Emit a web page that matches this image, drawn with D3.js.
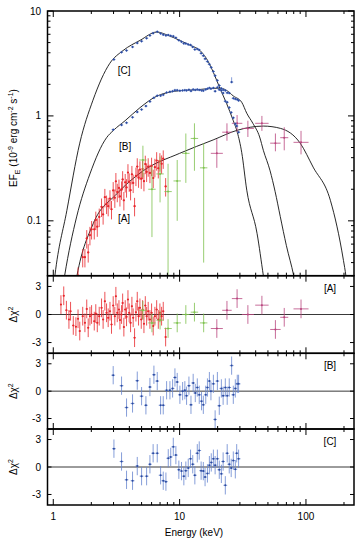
<!DOCTYPE html>
<html><head><meta charset="utf-8">
<script src="https://cdn.jsdelivr.net/npm/d3@7"></script>
<style>body{margin:0;background:#fff}svg{display:block;font-family:"Liberation Sans",Arial,sans-serif}</style>
</head><body><svg id="c" width="359" height="542"></svg>
<script>
// ---------- data ----------
const xTicksMajor = [1, 10, 100];
const xTickLabels = ["1", "10", "100"];
const yTicksMajor = [0.1, 1, 10];
const yTickLabels = ["0.1", "1", "10"];
const resTicks = [3, 0, -3];
const resTickLabels = ["3", "0", "-3"];
const panelNames = ["[A]", "[B]", "[C]"];

// model curves (energy keV, EF_E)
const modelAE = [1.4,1.54,2.07,3.17,5.15,10,18.4,28.6,46,63,90,114,156,198,207,215];
const modelAF = [0.015,0.03,0.094,0.18,0.30,0.44,0.59,0.73,0.80,0.76,0.55,0.325,0.157,0.042,0.03,0.02];
const modelBE = [1.1,1.23,1.53,1.95,2.64,3.0,3.7,4.86,6.5,8.4,10,14,18,20.9,23,26.6,31,34,38,43,46,52,57,62.6,70,80,88];
const modelBF = [0.012,0.03,0.109,0.28,0.62,0.73,0.9,1.2,1.53,1.69,1.74,1.78,1.83,1.84,1.78,1.55,1.35,1.06,0.85,0.63,0.47,0.30,0.19,0.11,0.058,0.03,0.016];
const modelCE = [0.95,1.03,1.28,1.62,2.06,2.8,3.57,4.86,6.6,8.13,10,12.2,14.5,16.6,18.5,20.9,23.5,26.6,28.6,31,34,41,46,50];
const modelCF = [0.012,0.03,0.125,0.55,1.41,3.17,4.2,5.25,6.3,5.85,5.25,4.7,4.2,3.4,2.6,1.82,1.32,0.9,0.7,0.45,0.196,0.076,0.03,0.015];

// [A] red data
const redE = [1.15,1.21,1.27,1.33,1.37,1.44,1.51,1.57,1.62,1.71,1.78,1.84,1.89,1.95,2.01,2.11,2.17,2.23,2.31,2.41,2.48,2.56,2.64,2.72,2.81,2.89,2.98,3.07,3.13,3.21,3.31,3.37,3.47,3.54,3.62,3.71,3.80,3.90,3.99,4.09,4.19,4.29,4.40,4.51,4.62,4.73,4.85,4.97,5.09,5.22,5.35,5.48,5.64,5.82,6.00,6.18,6.37,6.58,6.78,6.98,7.20,7.42,7.75];
const redFlux = [0.008,0.0136,0.013,0.0145,0.019,0.0174,0.0215,0.030,0.025,0.045,0.045,0.068,0.050,0.073,0.083,0.083,0.102,0.088,0.109,0.136,0.115,0.168,0.145,0.138,0.163,0.129,0.195,0.166,0.238,0.188,0.206,0.171,0.198,0.248,0.157,0.233,0.208,0.289,0.236,0.196,0.278,0.230,0.138,0.268,0.329,0.258,0.308,0.252,0.312,0.239,0.348,0.293,0.329,0.286,0.333,0.256,0.325,0.376,0.317,0.368,0.350,0.391,0.213];
const redRes = [1.06,2.0,0.46,-0.53,0.35,-1.17,-1.3,-0.46,-1.77,-0.18,-0.89,0.6,-1.42,-0.18,0,-0.71,0.1,-0.89,-0.18,0.71,-0.53,1.42,0.18,-0.35,0.35,-1.06,0.96,-0.18,1.95,0.18,0.53,-0.6,0,1.24,-1.35,0.53,-0.25,1.6,0.18,-0.89,0.89,-0.35,-2.48,0.25,1.42,-0.18,0.71,-0.53,0.53,-0.99,0.96,-0.18,0.35,-0.53,0.18,-1.24,-0.18,0.53,-0.53,0.18,-0.18,0.35,-2.41];
const redRelErr = 0.2;

// [A] green data
const greenE = [5.12,6.04,7.0,8.1,9.57,11.2,13.1,15.5];
const greenFlux = [0.38,0.20,0.28,0.19,0.24,0.44,0.61,0.32];
const greenLo = [0.26,0.07,0.15,0.03,0.10,0.23,0.30,0.04];
const greenHi = [0.52,0.33,0.41,0.35,0.38,0.68,0.85,0.55];
const greenRes = [0.45,-0.9,-0.6,-1.5,-0.9,0,0.25,-0.9];

// [A] magenta data
const magE = [19.7,23.7,28.5,34.7,44.8,57.3,67.3,91.4];
const magFlux = [0.44,0.70,0.85,0.76,0.85,0.55,0.62,0.56];
const magLo = [0.32,0.58,0.70,0.63,0.72,0.46,0.47,0.43];
const magHi = [0.60,0.85,1.02,0.90,1.00,0.68,0.78,0.72];
const magW = [1.116,1.09,1.10,1.116,1.13,1.10,1.076,1.147];
const magRes = [-1.5,0.45,1.7,0,1.0,-1.6,-0.3,0.6];

// [B] blue data
const bE = [2.98,3.47,3.80,4.24,4.62,5.00,5.41,5.82,6.26,6.65,7.07,7.42,7.89,8.38,8.80,9.18,9.57,10.05,10.56,11.0,11.35,11.85,12.3,12.8,13.3,13.8,14.3,14.9,15.4,16.1,16.6,17.2,17.7,18.5,19.1,19.9,20.6,21.4,22.1,23.0,23.8,24.7,25.8,26.6,27.6,28.6,29.3];
const bFlux = [0.74,0.82,0.86,0.97,1.09,1.15,1.24,1.37,1.49,1.56,1.56,1.59,1.67,1.70,1.72,1.76,1.76,1.74,1.75,1.76,1.75,1.78,1.73,1.79,1.77,1.79,1.77,1.75,1.74,1.79,1.82,1.85,1.82,1.85,1.72,1.87,1.78,1.83,1.77,1.75,1.66,1.65,2.1,1.47,1.45,1.43,1.40];
const bRes = [1.75,0.6,-1.8,-1.35,1.15,-0.55,-1.55,0.45,1.8,1.1,-1.55,-1.55,0.1,0.1,0.3,1.5,1.0,-0.4,0,0.1,-0.5,0.6,-1.5,0.9,-0.2,0.4,-0.4,-1.1,-1.5,-0.4,0.4,1.1,0,0.8,-3.1,1.1,-1.6,0.3,-0.5,0.4,-0.5,0.4,2.8,-0.4,0.3,0.8,0.8];

// [C] blue data
const cE = [3.02,3.47,3.80,4.24,4.62,5.0,5.48,5.82,6.17,6.65,7.07,7.42,7.79,8.13,8.5,8.91,9.34,9.86,10.35,10.8,11.2,11.7,12.2,12.7,13.2,13.8,14.3,14.8,15.4,15.9,16.6,17.2,17.8,18.5,19.1,19.9,20.6,21.4,22.1,23.0,23.8,24.7,25.6,26.6,27.6,28.3,29.3];
const cFlux = [3.45,4.05,4.2,4.55,4.95,5.15,5.5,5.85,6.15,6.35,6.1,5.95,5.85,5.9,5.8,5.75,5.55,5.25,5.1,4.9,4.9,4.8,4.75,4.55,4.3,4.35,4.25,3.95,3.75,3.5,3.3,3.1,2.9,2.65,2.42,2.18,1.95,1.75,1.65,1.38,1.35,1.2,1.08,0.96,0.84,0.80,0.70];
const cRes = [2.0,0.6,-1.4,-1.5,0.1,-1.0,-1.0,0.3,1.5,1.5,-0.9,-1.5,-1.6,0.95,1.1,2.2,1.3,-0.3,-0.45,-1.0,-0.4,-0.1,0.9,0.3,-0.9,1.5,1.8,-0.4,-0.45,-1.1,-0.7,0.2,0.5,0.9,0.2,0.9,-0.3,-0.75,0.6,-2.0,1.5,0.3,-0.1,0.7,-0.25,1.5,0.9];
const blueRelErr = 0.03;

// main curve label positions (energy, EF_E)
const mainLabelE = [3.63, 3.7, 3.63];
const mainLabelF = [0.106, 0.515, 2.7];

// ---------- layout ----------
const svg = d3.select("#c");
const L = 47.5, R = 354;
const mainTop = 11, mainBot = 275.7;
const panels = [[275.7, 353.3], [353.3, 429], [429, 505]];
const col = {red:"#e8262b", green:"#7ec24e", mag:"#b9467f", blue:"#2b4a9f", blueErr:"#6785cf"};

const x = d3.scaleLog().domain([0.9, 240]).range([L, R]);
const y = d3.scaleLog().domain([0.03, 10]).range([mainBot, mainTop]);
const ry = panels.map(p => d3.scaleLinear().domain([-4.15, 4.15]).range([p[1], p[0]]));

const defs = svg.append("defs");
function clip(id, y0, y1) {
  defs.append("clipPath").attr("id", id).append("rect").attr("x", L).attr("y", y0).attr("width", R - L).attr("height", y1 - y0);
}
clip("cm", mainTop, mainBot);
panels.forEach((p, i) => clip("cr" + i, p[0], p[1]));

// ---------- main panel ----------
const gm = svg.append("g").attr("clip-path", "url(#cm)");
const line = d3.line().x(d => x(d[0])).y(d => y(d[1])).curve(d3.curveMonotoneX);
[[modelAE, modelAF], [modelBE, modelBF], [modelCE, modelCF]].forEach(([E, F]) => {
  gm.append("path").attr("d", line(E.map((e, i) => [e, F[i]]))).attr("fill", "none").attr("stroke", "#111").attr("stroke-width", 0.9);
});

function errPts(g, pts, color, barColor, r) {
  pts.forEach(p => {
    g.append("line").attr("x1", x(p.e0)).attr("x2", x(p.e1)).attr("y1", p.sy(p.v)).attr("y2", p.sy(p.v)).attr("stroke", barColor).attr("stroke-width", 0.8);
    g.append("line").attr("x1", x(p.e)).attr("x2", x(p.e)).attr("y1", p.sy(p.lo)).attr("y2", p.sy(p.hi)).attr("stroke", barColor).attr("stroke-width", 0.8);
    g.append("circle").attr("cx", x(p.e)).attr("cy", p.sy(p.v)).attr("r", r).attr("fill", color);
  });
}

// main data
errPts(gm, redE.map((e, i) => ({e, e0: e / 1.018, e1: e * 1.018, v: redFlux[i], lo: redFlux[i] * (1 - redRelErr), hi: redFlux[i] * (1 + redRelErr), sy: y})), col.red, col.red, 1.1);
errPts(gm, greenE.map((e, i) => ({e, e0: e / 1.07, e1: e * 1.07, v: greenFlux[i], lo: greenLo[i], hi: greenHi[i], sy: y})), col.green, col.green, 1.0);
errPts(gm, magE.map((e, i) => ({e, e0: e / magW[i], e1: e * magW[i], v: magFlux[i], lo: magLo[i], hi: magHi[i], sy: y})), col.mag, col.mag, 1.0);
errPts(gm, bE.map((e, i) => ({e, e0: e / 1.03, e1: e * 1.03, v: bFlux[i], lo: bFlux[i] * (1 - blueRelErr), hi: bFlux[i] * (1 + blueRelErr) * (i === 42 ? 1.08 : 1), sy: y})), col.blue, col.blueErr, 1.0);
errPts(gm, cE.map((e, i) => ({e, e0: e / 1.03, e1: e * 1.03, v: cFlux[i], lo: cFlux[i] * (1 - blueRelErr), hi: cFlux[i] * (1 + blueRelErr), sy: y})), col.blue, col.blueErr, 1.0);

// ---------- residual panels ----------
const resData = [
  [[redE, redRes, col.red, col.red, 1.018], [greenE, greenRes, col.green, col.green, 1.07], [magE, magRes, col.mag, col.mag, null]],
  [[bE, bRes, col.blue, col.blueErr, 1.035]],
  [[cE, cRes, col.blue, col.blueErr, 1.035]]
];
panels.forEach((p, k) => {
  const g = svg.append("g").attr("clip-path", `url(#cr${k})`);
  g.append("line").attr("x1", L).attr("x2", R).attr("y1", ry[k](0)).attr("y2", ry[k](0)).attr("stroke", "#222").attr("stroke-width", 0.9);
  resData[k].forEach(([E, Rv, c, bc, w]) => {
    errPts(g, E.map((e, i) => {
      const ww = w === null ? magW[i] : w;
      return {e, e0: e / ww, e1: e * ww, v: Rv[i], lo: Rv[i] - 1, hi: Rv[i] + 1, sy: ry[k]};
    }), c, bc, 1.0);
  });
});

// ---------- frames & ticks ----------
const frame = svg.append("g");
function rectF(y0, y1) {
  frame.append("rect").attr("x", L).attr("y", y0).attr("width", R - L).attr("height", y1 - y0).attr("fill", "none").attr("stroke", "#000").attr("stroke-width", 1.5);
}
rectF(mainTop, mainBot);
panels.forEach(p => rectF(p[0], p[1]));

const xMinor = [];
[1, 10, 100].forEach(d => { for (let m = 2; m <= 9; m++) if (m * d <= 240) xMinor.push(m * d); });
function xTicks(y0, dir) {
  xTicksMajor.forEach(v => frame.append("line").attr("x1", x(v)).attr("x2", x(v)).attr("y1", y0).attr("y2", y0 + dir * 6).attr("stroke", "#000").attr("stroke-width", 1));
  xMinor.forEach(v => frame.append("line").attr("x1", x(v)).attr("x2", x(v)).attr("y1", y0).attr("y2", y0 + dir * 3).attr("stroke", "#000").attr("stroke-width", 1));
}
xTicks(mainTop, 1); xTicks(mainBot, -1);
panels.forEach(p => { xTicks(p[0], 1); xTicks(p[1], -1); });

const yMinor = [];
[0.01, 0.1, 1].forEach(d => { for (let m = 2; m <= 9; m++) { const v = m * d; if (v >= 0.03 && v <= 10) yMinor.push(v); } });
[[L, 1], [R, -1]].forEach(([x0, dir]) => {
  yTicksMajor.forEach(v => frame.append("line").attr("x1", x0).attr("x2", x0 + dir * 6).attr("y1", y(v)).attr("y2", y(v)).attr("stroke", "#000").attr("stroke-width", 1));
  yMinor.forEach(v => frame.append("line").attr("x1", x0).attr("x2", x0 + dir * 3).attr("y1", y(v)).attr("y2", y(v)).attr("stroke", "#000").attr("stroke-width", 1));
  panels.forEach((p, k) => resTicks.forEach(v => frame.append("line").attr("x1", x0).attr("x2", x0 + dir * 4).attr("y1", ry[k](v)).attr("y2", ry[k](v)).attr("stroke", "#000").attr("stroke-width", 1)));
});

// ---------- labels ----------
const fs = 10;
yTicksMajor.forEach((v, i) => svg.append("text").attr("x", 41).attr("y", y(v)).attr("dy", "0.35em").attr("text-anchor", "end").attr("font-size", fs).text(yTickLabels[i]));
panels.forEach((p, k) => resTicks.forEach((v, i) => svg.append("text").attr("x", 41).attr("y", ry[k](v)).attr("dy", "0.35em").attr("text-anchor", "end").attr("font-size", fs).text(resTickLabels[i])));
xTicksMajor.forEach((v, i) => svg.append("text").attr("x", x(v)).attr("y", 520).attr("text-anchor", "middle").attr("font-size", fs).text(xTickLabels[i]));
svg.append("text").attr("x", 194).attr("y", 536).attr("text-anchor", "middle").attr("font-size", fs).text("Energy (keV)");

// y label main
const yl = svg.append("text").attr("transform", "translate(17,138) rotate(-90)").attr("text-anchor", "middle").attr("font-size", fs);
yl.append("tspan").text("EF");
yl.append("tspan").attr("dy", 2.5).attr("font-size", 7).text("E");
yl.append("tspan").attr("dy", -2.5).text(" (10");
yl.append("tspan").attr("dy", -4).attr("font-size", 7).text("-9");
yl.append("tspan").attr("dy", 4).text(" erg cm");
yl.append("tspan").attr("dy", -4).attr("font-size", 7).text("-2");
yl.append("tspan").attr("dy", 4).text(" s");
yl.append("tspan").attr("dy", -4).attr("font-size", 7).text("-1");
yl.append("tspan").attr("dy", 4).text(")");

panels.forEach((p, k) => {
  const t = svg.append("text").attr("transform", `translate(17,${ry[k](0)}) rotate(-90)`).attr("text-anchor", "middle").attr("font-size", fs);
  t.append("tspan").text("Δχ");
  t.append("tspan").attr("dy", -4).attr("font-size", 7).text("2");
  svg.append("text").attr("x", 330).attr("y", p[0] + 16).attr("text-anchor", "middle").attr("font-size", fs).text(panelNames[k]);
});

// main curve labels
panelNames.forEach((n, i) => svg.append("text").attr("x", x(mainLabelE[i])).attr("y", y(mainLabelF[i])).attr("dy", "0.35em").attr("text-anchor", "middle").attr("font-size", fs).text(n));
</script></body></html>
